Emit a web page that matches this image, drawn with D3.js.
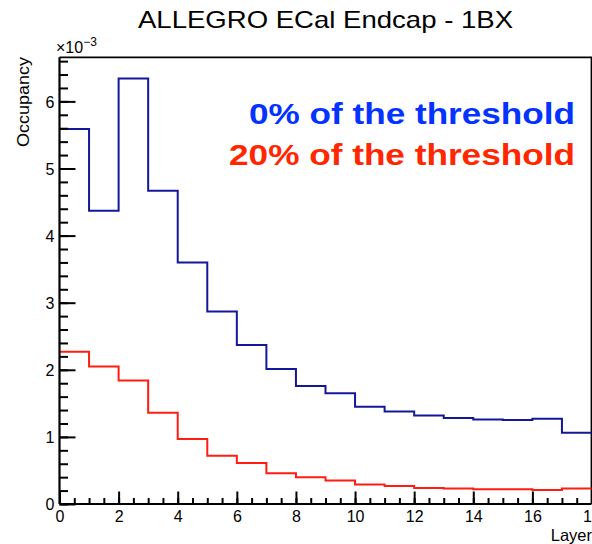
<!DOCTYPE html>
<html>
<head>
<meta charset="utf-8">
<script src="https://cdn.jsdelivr.net/npm/d3@7"></script>
<style>
  html, body { margin: 0; padding: 0; background: #fff; }
  svg { display: block; font-family: "Liberation Sans", Arial, Helvetica, sans-serif; }
</style>
</head>
<body>
<svg id="chart" width="592" height="544"></svg>
<script>
// Occupancy per ECal endcap layer (one bunch crossing)
const layers = d3.range(0, 18);            // bin lower edges, bins are 1 layer wide
const occNoThreshold = [5.59e-3, 4.37e-3, 6.34e-3, 4.67e-3, 3.60e-3, 2.87e-3, 2.37e-3, 2.01e-3, 1.76e-3,
                        1.65e-3, 1.45e-3, 1.38e-3, 1.32e-3, 1.28e-3, 1.26e-3, 1.25e-3, 1.27e-3, 1.06e-3];
const occThreshold20 = [2.27e-3, 2.05e-3, 1.84e-3, 1.36e-3, 0.97e-3, 0.72e-3, 0.61e-3, 0.46e-3, 0.40e-3,
                        0.35e-3, 0.29e-3, 0.27e-3, 0.24e-3, 0.23e-3, 0.22e-3, 0.22e-3, 0.21e-3, 0.23e-3];
const xTicks = [0, 2, 4, 6, 8, 10, 12, 14, 16, 18];
const yTicks = [0, 1e-3, 2e-3, 3e-3, 4e-3, 5e-3, 6e-3];
const legendLabels = ["0% of the threshold", "20% of the threshold"];
const titleText = "ALLEGRO ECal Endcap - 1BX";

const svg = d3.select("#chart");
const frame = { left: 59.5, right: 591.5, top: 57.3, bottom: 504 };

const x = d3.scaleLinear().domain([0, 18]).range([frame.left, frame.right]);
const yMax = 1.05 * d3.max(occNoThreshold);
const y = d3.scaleLinear().domain([0, yMax]).range([frame.bottom, frame.top]);

// frame (top and right edges)
svg.append("path")
  .attr("d", `M${frame.left},${frame.top}H${frame.right}V${frame.bottom}`)
  .attr("fill", "none").attr("stroke", "#000").attr("stroke-width", 1.8);

// histograms as step outlines
function stepPoints(vals) {
  const pts = layers.map((l, i) => [l, vals[i]]);
  pts.push([layers[layers.length - 1] + 1, vals[vals.length - 1]]);
  return pts;
}
const line = d3.line().x(d => x(d[0])).y(d => y(d[1])).curve(d3.curveStepAfter);
svg.append("path").datum(stepPoints(occNoThreshold))
  .attr("d", line).attr("fill", "none").attr("stroke", "#14179a").attr("stroke-width", 2);
svg.append("path").datum(stepPoints(occThreshold20))
  .attr("d", line).attr("fill", "none").attr("stroke", "#ff1d12").attr("stroke-width", 2);

const tickFont = "Liberation Sans, Arial, sans-serif";

// x axis
const xAxis = svg.append("g").attr("transform", `translate(0,${frame.bottom})`);
xAxis.append("g").call(d3.axisBottom(x).tickValues(d3.range(0, 18.01, 0.5)).tickSize(-6).tickFormat(""))
  .call(g => g.select(".domain").remove());
xAxis.append("g").call(d3.axisBottom(x).tickValues(xTicks).tickSize(-12.5).tickFormat(d3.format("d")).tickPadding(0))
  .call(g => g.select(".domain").remove())
  .call(g => g.selectAll("text").attr("y", 18).attr("dy", null).attr("font-size", 16)
    .attr("font-family", tickFont).attr("fill", "#000"));
xAxis.append("line").attr("x1", frame.left).attr("x2", frame.right).attr("stroke", "#000").attr("stroke-width", 2.2);
xAxis.selectAll(".tick line").attr("stroke", "#000").attr("stroke-width", 2);

// y axis
const yAxis = svg.append("g").attr("transform", `translate(${frame.left},0)`);
yAxis.append("g").call(d3.axisLeft(y).tickValues(d3.range(0, yMax, 0.2e-3)).tickSize(-8.5).tickFormat(""))
  .call(g => g.select(".domain").remove());
yAxis.append("g").call(d3.axisLeft(y).tickValues(yTicks).tickSize(-16).tickFormat(d => d3.format("d")(Math.round(d * 1e3))).tickPadding(0))
  .call(g => g.select(".domain").remove())
  .call(g => g.selectAll("text").attr("x", -5).attr("dy", "0.36em").attr("font-size", 16)
    .attr("font-family", tickFont).attr("fill", "#000"));
yAxis.append("line").attr("y1", frame.top).attr("y2", frame.bottom).attr("stroke", "#000").attr("stroke-width", 2.2);
yAxis.selectAll(".tick line").attr("stroke", "#000").attr("stroke-width", 2);

// axis exponent
const expo = svg.append("text").attr("x", 56).attr("y", 53).attr("font-size", 16).attr("fill", "#000");
expo.append("tspan").text("×10");
expo.append("tspan").attr("dy", -7).attr("font-size", 12).text("−3");

// axis titles
svg.append("text").attr("transform", `translate(29,57) rotate(-90)`)
  .attr("text-anchor", "end").attr("font-size", 16.5).attr("fill", "#000")
  .attr("textLength", 90).attr("lengthAdjust", "spacingAndGlyphs").text("Occupancy");
svg.append("text").attr("x", 592).attr("y", 541).attr("text-anchor", "end")
  .attr("font-size", 16.5).attr("fill", "#000").text("Layer");

// title
svg.append("text").attr("x", 325.5).attr("y", 28.3).attr("text-anchor", "middle")
  .attr("font-size", 24).attr("fill", "#000")
  .attr("textLength", 375).attr("lengthAdjust", "spacingAndGlyphs").text(titleText);

// legend text
const legendColors = ["#0433ff", "#ff2600"];
const legendBase = [124, 164.5];
const legendWidth = [326, 346];
legendLabels.forEach((t, i) => {
  svg.append("text").attr("x", 575).attr("y", legendBase[i]).attr("text-anchor", "end")
    .attr("font-size", 30).attr("font-weight", "bold").attr("fill", legendColors[i])
    .attr("textLength", legendWidth[i]).attr("lengthAdjust", "spacingAndGlyphs").text(t);
});
</script>
</body>
</html>
